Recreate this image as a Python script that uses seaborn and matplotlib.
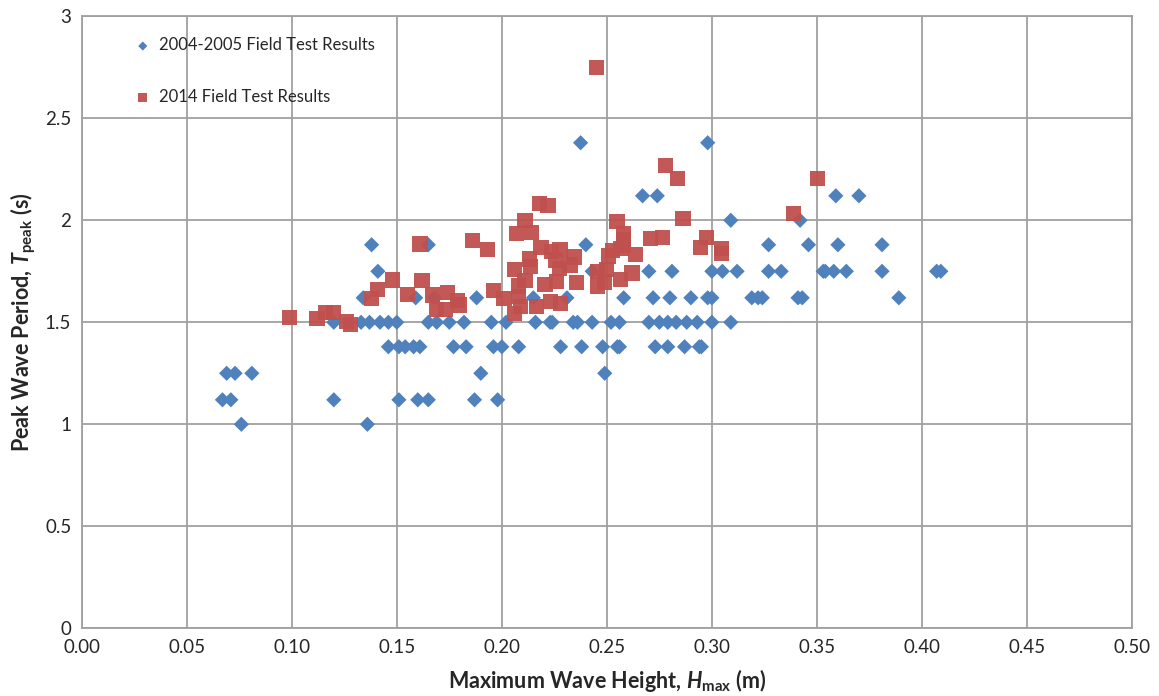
import numpy as np
import pandas as pd
import seaborn as sns
import matplotlib
matplotlib.use('Agg')
from matplotlib import pyplot as plt
from matplotlib.ticker import FixedLocator, FuncFormatter

# 2004-2005 field test results (Hmax in m, Tpeak in s)
hmax_0405 = [0.076, 0.136,
             0.067, 0.071, 0.120, 0.151, 0.160, 0.165, 0.187, 0.198,
             0.069, 0.073, 0.081, 0.190, 0.249,
             0.146, 0.151, 0.154, 0.158, 0.161, 0.177, 0.183, 0.196, 0.200, 0.208,
             0.228, 0.238, 0.248, 0.255, 0.256, 0.273, 0.279, 0.287, 0.294, 0.295,
             0.120, 0.133, 0.137, 0.142, 0.146, 0.150, 0.165, 0.169, 0.175, 0.182,
             0.195, 0.202, 0.216, 0.223, 0.224, 0.234, 0.236, 0.243, 0.252, 0.256,
             0.270, 0.275, 0.279, 0.283, 0.288, 0.293, 0.300, 0.309,
             0.134, 0.159, 0.168, 0.188, 0.215, 0.231, 0.258, 0.272, 0.280, 0.290,
             0.298, 0.300, 0.319, 0.322, 0.324, 0.341, 0.343, 0.389,
             0.141, 0.243, 0.270, 0.281, 0.300, 0.305, 0.312, 0.327, 0.333, 0.353,
             0.354, 0.358, 0.364, 0.381, 0.407, 0.409,
             0.138, 0.165, 0.240, 0.327, 0.346, 0.360, 0.381,
             0.309, 0.342,
             0.267, 0.274, 0.359, 0.370,
             0.2375, 0.298]
tpeak_0405 = [1.0] * 2 + [1.12] * 8 + [1.25] * 5 + [1.38] * 20 + [1.5] * 28 + \
             [1.62] * 18 + [1.75] * 16 + [1.88] * 7 + [2.0] * 2 + [2.12] * 4 + [2.38] * 2

# 2014 field test results
hmax_2014 = [0.099, 0.112, 0.116, 0.120, 0.126, 0.128, 0.138, 0.141, 0.148, 0.155,
             0.161, 0.162, 0.167, 0.169, 0.173, 0.174, 0.179, 0.180, 0.186, 0.193,
             0.196, 0.201, 0.206, 0.206, 0.207, 0.208, 0.208, 0.209, 0.211, 0.211,
             0.213, 0.2135, 0.214, 0.2165, 0.218, 0.2186, 0.222, 0.2206, 0.2233, 0.2236,
             0.2257, 0.2262, 0.2277, 0.2273, 0.228, 0.2325, 0.2344, 0.2355, 0.245, 0.2455,
             0.2455, 0.249, 0.250, 0.2507, 0.2527, 0.2548, 0.2565, 0.2567, 0.258, 0.258,
             0.2578, 0.262, 0.2635, 0.2706, 0.2765, 0.278, 0.2835, 0.2863, 0.2944, 0.2975,
             0.3046, 0.3047, 0.3387, 0.3503]
tpeak_2014 = [1.525, 1.52, 1.547, 1.547, 1.503, 1.49, 1.618, 1.662, 1.707, 1.637,
              1.884, 1.704, 1.634, 1.564, 1.562, 1.645, 1.605, 1.585, 1.90, 1.856,
              1.655, 1.618, 1.543, 1.76, 1.935, 1.678, 1.626, 1.577, 2.0, 1.703,
              1.81, 1.772, 1.939, 1.577, 2.083, 1.865, 2.072, 1.685, 1.60, 1.846,
              1.805, 1.699, 1.858, 1.762, 1.593, 1.781, 1.82, 1.694, 2.75, 1.678,
              1.748, 1.697, 1.758, 1.825, 1.853, 1.995, 1.711, 1.863, 1.937, 1.907,
              1.879, 1.742, 1.833, 1.912, 1.917, 2.268, 2.203, 2.01, 1.866, 1.917,
              1.86, 1.838, 2.034, 2.205]

x_ticks = [0.00, 0.05, 0.10, 0.15, 0.20, 0.25, 0.30, 0.35, 0.40, 0.45, 0.50]
y_ticks = [0, 0.5, 1, 1.5, 2, 2.5, 3]

sns.set_style('white')
plt.rcParams['font.family'] = ['Lato', 'DejaVu Sans']
plt.rcParams['mathtext.fontset'] = 'custom'
plt.rcParams['mathtext.rm'] = 'Lato:bold'
plt.rcParams['mathtext.bf'] = 'Lato:bold'
plt.rcParams['mathtext.it'] = 'Lato:bold:italic'

fig = plt.figure(figsize=(11.59, 6.96), dpi=100)
ax = fig.add_axes([0.0705, 0.0973, 0.9062, 0.8793])

sns.scatterplot(x=hmax_0405, y=tpeak_0405, marker='D', s=60, color='#4F81BD',
                edgecolor='none', label='2004-2005 Field Test Results', ax=ax, zorder=3)
sns.scatterplot(x=hmax_2014, y=tpeak_2014, marker='s', s=120, color='#C0504D',
                edgecolor='none', alpha=0.95, label='2014 Field Test Results', ax=ax, zorder=4)

ax.set_xlim(0, 0.5)
ax.set_ylim(0, 3)
ax.xaxis.set_major_locator(FixedLocator(x_ticks))
ax.yaxis.set_major_locator(FixedLocator(y_ticks))
ax.xaxis.set_major_formatter(FuncFormatter(lambda v, p: f'{v:.2f}'))
ax.yaxis.set_major_formatter(FuncFormatter(lambda v, p: f'{v:g}'))
ax.grid(True, color='#A0A0A0', linewidth=1.3)
ax.set_axisbelow(True)
for sp in ax.spines.values():
    sp.set_color('#A0A0A0')
    sp.set_linewidth(1.3)
ax.tick_params(axis='both', labelsize=13.5, length=4, color='#A0A0A0', direction='out')

ax.set_xlabel(r'Maximum Wave Height, $\mathit{H}_{\mathrm{max}}$ (m)',
              fontsize=15.5, fontweight='bold', labelpad=8)
ax.set_ylabel(r'Peak Wave Period, $\mathit{T}_{\mathrm{peak}}$ (s)',
              fontsize=15.5, fontweight='bold', labelpad=5)

leg = ax.legend(loc='upper left', bbox_to_anchor=(0.028, 0.99), frameon=False,
                fontsize=12, labelspacing=2.15, handletextpad=0.0, markerscale=0.6)

fig.savefig('out.png', dpi=100)
